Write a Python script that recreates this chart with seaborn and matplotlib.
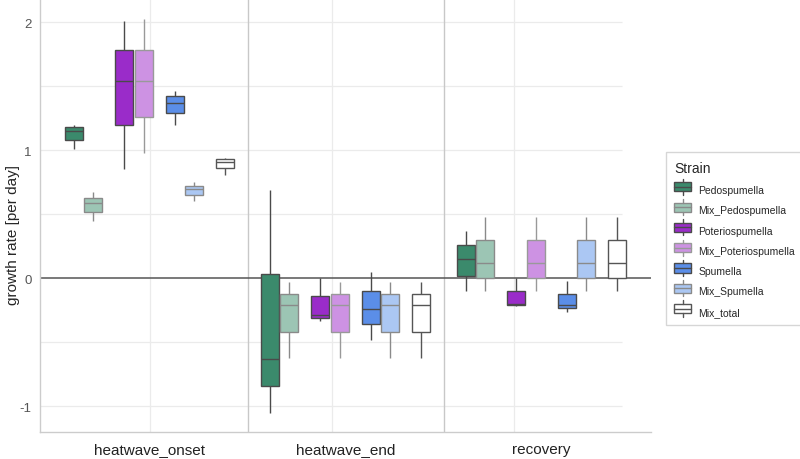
# Growth rate per phase and strain (boxplots)

import pandas as pd
import matplotlib
matplotlib.use("Agg")
import matplotlib.pyplot as plt
import matplotlib.patches as mpatches
import matplotlib.colors as mcolors
from matplotlib.legend_handler import HandlerBase
import seaborn as sns

# datos: por cepa y fase -> [bigote inf, q1, mediana, q3, bigote sup]
phases = ["heatwave_onset", "heatwave_end", "recovery"]
strains = ["Pedospumella", "Mix_Pedospumella", "Poteriospumella",
           "Mix_Poteriospumella", "Spumella", "Mix_Spumella", "Mix_total"]

pedospumella = [[1.01, 1.08, 1.15, 1.18, 1.20],
                [-1.05, -0.84, -0.63, 0.03, 0.69],
                [-0.10, 0.02, 0.15, 0.26, 0.37]]
mix_pedospumella = [[0.45, 0.52, 0.59, 0.63, 0.67],
                    [-0.62, -0.42, -0.21, -0.12, -0.03],
                    [-0.10, 0.00, 0.12, 0.30, 0.48]]
poteriospumella = [[0.85, 1.20, 1.54, 1.78, 2.01],
                   [-0.33, -0.31, -0.29, -0.14, 0.00],
                   [-0.22, -0.21, -0.20, -0.10, 0.00]]
mix_poteriospumella = [[0.98, 1.26, 1.54, 1.78, 2.02],
                       [-0.62, -0.42, -0.21, -0.12, -0.03],
                       [-0.10, 0.00, 0.12, 0.30, 0.48]]
spumella = [[1.20, 1.29, 1.37, 1.42, 1.46],
            [-0.48, -0.36, -0.24, -0.10, 0.05],
            [-0.26, -0.23, -0.21, -0.12, -0.02]]
mix_spumella = [[0.60, 0.65, 0.70, 0.72, 0.75],
                [-0.62, -0.42, -0.21, -0.12, -0.03],
                [-0.10, 0.00, 0.12, 0.30, 0.48]]
mix_total = [[0.81, 0.86, 0.91, 0.93, 0.94],
             [-0.62, -0.42, -0.21, -0.12, -0.03],
             [-0.10, 0.00, 0.12, 0.30, 0.48]]

values = [pedospumella, mix_pedospumella, poteriospumella, mix_poteriospumella,
          spumella, mix_spumella, mix_total]

# posiciones dentro de cada grupo (layout)
offsets = [-0.3865, -0.287, -0.1288, -0.0293, 0.1288, 0.2283, 0.3865]
colors = ["#3b8a6c", "#9cc5b4", "#9a2cc9", "#cd92e3", "#5b8ee8", "#abc7f3", "#ffffff"]
edges = ["#4a4a4a", "#8a8a8a", "#4a4a4a", "#999999", "#4a4a4a", "#8a8a8a", "#555555"]

rows = []
for k, strain in enumerate(strains):
    for i, phase in enumerate(phases):
        for v in values[k][i]:
            rows.append({"pos": i + offsets[k], "Strain": strain, "rate": v})
df = pd.DataFrame(rows)

sns.set_style("white")
plt.rcParams["font.family"] = ["Liberation Sans", "DejaVu Sans"]

fig = plt.figure(figsize=(8, 4.6), dpi=100)
ax = fig.add_axes([0.05, 0.0587, 0.764, 0.9413])

# rejilla y separadores
for y in [-1, -0.5, 0.5, 1, 1.5, 2]:
    ax.hlines(y, -0.56, 2.41, color="#ebebeb", lw=0.9, zorder=0)
for x in [0, 0.93, 1.86]:
    ax.axvline(x, color="#ebebeb", lw=0.9, zorder=0)
for x in [0.5, 1.5]:
    ax.axvline(x, color="#c8c8c8", lw=1.0, zorder=0)
ax.axhline(0, color="#555555", lw=1.1, zorder=1)

sns.boxplot(data=df, x="pos", y="rate", hue="Strain", hue_order=strains,
            palette=dict(zip(strains, colors)), native_scale=True, dodge=False,
            saturation=1, width=0.925, linewidth=1.0, fliersize=0,
            legend=False, ax=ax)

# colores de bordes por cepa
fc_map = {mcolors.to_hex(c): j for j, c in enumerate(colors)}
for cont in ax.containers:
    if not hasattr(cont, "boxes"):
        continue
    for cap in cont.caps:
        cap.set_visible(False)
    for j, box in enumerate(cont.boxes):
        k = fc_map.get(mcolors.to_hex(box.get_facecolor()), 0)
        box.set_edgecolor(edges[k])
        box.set_zorder(3)
        cont.medians[j].set_color(edges[k])
        cont.medians[j].set_zorder(4)
        for w in cont.whiskers[2 * j:2 * j + 2]:
            w.set_color(edges[k])
            w.set_zorder(3)

ax.set_xlim(-0.56, 2.56)
ax.set_ylim(-1.2, 2.18)
ax.set_xticks([0, 1, 2])
ax.set_xticklabels(phases, fontsize=11, color="#222222")
ax.set_yticks([-1, 0, 1, 2])
ax.set_yticklabels(["-1", "0", "1", "2"], fontsize=9.5, color="#555555")
ax.tick_params(axis="x", length=0, pad=7)
ax.tick_params(axis="y", length=0, pad=6)
ax.set_xlabel("")
ax.set_ylabel("growth rate [per day]", fontsize=11)
ax.yaxis.set_label_coords(-0.032, 0.458)
for side in ["top", "right"]:
    ax.spines[side].set_visible(False)
for side in ["left", "bottom"]:
    ax.spines[side].set_color("#cccccc")
    ax.spines[side].set_linewidth(1.0)


# simbolo de leyenda: caja con mediana y bigotes
class BoxHandler(HandlerBase):
    def create_artists(self, legend, orig, xd, yd, width, height, fontsize, trans):
        fc = orig.get_facecolor()
        ec = orig.get_edgecolor()
        h = height * 0.95
        y0 = yd + (height - h) / 2
        rect = mpatches.Rectangle((xd, y0), width, h, facecolor=fc,
                                  edgecolor=ec, lw=1.0, transform=trans)
        cx = xd + width / 2
        med = plt.Line2D([xd, xd + width], [y0 + h / 2] * 2, color=ec, lw=1.0,
                         transform=trans)
        w1 = plt.Line2D([cx, cx], [y0 + h, y0 + h + 2.5], color=ec, lw=1.0,
                        transform=trans)
        w2 = plt.Line2D([cx, cx], [y0 - 2.5, y0], color=ec, lw=1.0,
                        transform=trans)
        return [rect, med, w1, w2]


handles = [mpatches.Patch(facecolor=c, edgecolor=e) for c, e in zip(colors, edges)]
leg = ax.legend(handles, strains, title="Strain", loc="center left",
                bbox_to_anchor=(0.8325, 0.479), bbox_transform=fig.transFigure,
                borderaxespad=0, fontsize=7.5, title_fontsize=10, frameon=True,
                fancybox=False, labelspacing=0.95, handlelength=1.6,
                handleheight=1.05, handletextpad=0.7, alignment="left",
                borderpad=0.8, handler_map={mpatches.Patch: BoxHandler()})
leg.get_frame().set_edgecolor("#cccccc")
leg.get_frame().set_linewidth(1.0)

fig.savefig("out.png", dpi=100)
